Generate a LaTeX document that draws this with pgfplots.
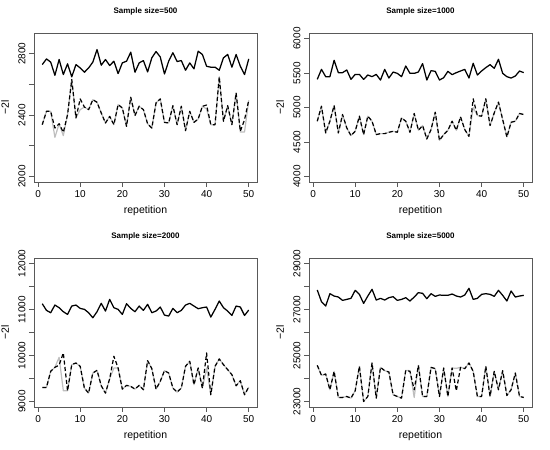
\documentclass[border=0pt]{standalone}
\usepackage{fontspec}
\setmainfont{Liberation Sans}
\usepackage{pgfplots}
\usepackage{pgfplotstable}
\pgfplotsset{compat=1.18}

\definecolor{rgray}{HTML}{BEBEBE}

% columns: repetition, top solid, dashed, gray
\pgfplotstableread{
x T D G
1 2730 2338 2338
2 2767 2425 2425
3 2746 2425 2425
4 2660 2316 2255
5 2763 2344 2344
6 2665 2288 2266
7 2735 2403 2403
8 2650 2632 2632
9 2730 2382 2382
10 2708 2506 2436
11 2680 2453 2453
12 2708 2436 2436
13 2746 2501 2501
14 2828 2484 2484
15 2726 2414 2414
16 2763 2349 2349
17 2724 2392 2392
18 2752 2338 2338
19 2671 2469 2469
20 2741 2447 2447
21 2752 2327 2327
22 2811 2517 2517
23 2680 2397 2397
24 2741 2458 2458
25 2756 2436 2436
26 2682 2344 2344
27 2774 2316 2316
28 2815 2480 2480
29 2780 2506 2506
30 2669 2353 2353
31 2752 2349 2349
32 2807 2462 2462
33 2750 2338 2338
34 2756 2458 2458
35 2693 2299 2299
36 2741 2425 2425
37 2702 2353 2353
38 2817 2375 2375
39 2796 2458 2458
40 2719 2466 2440
41 2713 2338 2338
42 2713 2338 2338
43 2693 2650 2650
44 2774 2360 2360
45 2796 2462 2462
46 2713 2338 2338
47 2796 2545 2545
48 2719 2295 2290
49 2665 2370 2290
50 2767 2497 2497
}\dataA

\pgfplotstableread{
x T D G
1 5408 4801 4801
2 5553 5019 5019
3 5447 4631 4631
4 5447 4801 4801
5 5684 5029 5029
6 5505 4631 4631
7 5505 4898 4898
8 5544 4704 4704
9 5408 4592 4592
10 5480 4655 4655
11 5480 4874 4874
12 5408 4607 4607
13 5471 4874 4874
14 5447 4801 4801
15 5480 4607 4607
16 5398 4621 4621
17 5553 4621 4621
18 5427 4641 4641
19 5514 4655 4655
20 5495 4641 4641
21 5447 4849 4849
22 5602 4801 4801
23 5495 4641 4641
24 5495 4913 4913
25 5514 4670 4670
26 5636 4738 4738
27 5398 4544 4544
28 5534 4680 4680
29 5524 4932 4932
30 5398 4524 4524
31 5432 4607 4607
32 5524 4670 4670
33 5476 4801 4801
34 5505 4670 4670
35 5529 4864 4864
36 5553 4680 4680
37 5427 4582 4582
38 5641 5126 5000
39 5471 4883 4883
40 5529 4874 4874
41 5578 5126 5126
42 5621 4738 4738
43 5568 4922 4922
44 5699 5078 5078
45 5495 4825 4825
46 5447 4573 4573
47 5427 4786 4786
48 5456 4801 4801
49 5529 4913 4913
50 5505 4898 4898
}\dataB

\pgfplotstableread{
x T D G
1 11126 9306 9306
2 10981 9306 9306
3 10930 9655 9655
4 11097 9743 9743
5 11039 9790 9960
6 10952 10056 9233
7 10893 9233 9233
8 11075 9801 9801
9 11097 9837 9837
10 11024 9765 9765
11 11003 9291 9291
12 10930 9182 9182
13 10820 9619 9619
14 10952 9677 9677
15 11134 9342 9342
16 10966 9182 9182
17 11221 9495 9495
18 11039 9983 9728
19 11003 9728 9728
20 10893 9269 9269
21 11126 9350 9350
22 11024 9328 9328
23 10952 9269 9269
24 11075 9350 9350
25 10981 9255 9255
26 11112 9888 9888
27 10930 9714 9714
28 10966 9269 9269
29 11054 9437 9437
30 10879 9670 9670
31 10857 9619 9619
32 11024 9291 9291
33 10930 9204 9204
34 10981 9291 9291
35 11097 9765 9765
36 11134 9874 9874
37 11075 9364 9364
38 11017 9728 9728
39 11039 9291 9291
40 11054 10056 9728
41 10835 9146 9146
42 11003 9765 9765
43 11185 9925 9925
44 11039 9801 9801
45 10966 9692 9692
46 10871 9583 9583
47 11075 9342 9342
48 11054 9451 9451
49 10871 9146 9146
50 10988 9313 9313
}\dataC

\pgfplotstableread{
x T D G
1 27849 24572 24572
2 27339 24136 24136
3 27150 24194 24194
4 27688 23510 23510
5 27586 24310 24310
6 27543 23175 23175
7 27397 23175 23175
8 27441 23218 23218
9 27485 23146 23146
10 27834 23466 23466
11 27659 24529 24529
12 27266 23000 23000
13 27586 23218 23218
14 27878 24674 24674
15 27412 23146 23146
16 27485 24485 24485
17 27412 24340 24340
18 27514 24281 24281
19 27557 23291 23291
20 27397 23218 23218
21 27441 23146 23146
22 27514 24354 24354
23 27368 24310 24340
24 27543 23510 23175
25 27732 24572 24572
26 27703 23218 23218
27 27470 23218 23218
28 27688 24485 24485
29 27572 24427 24427
30 27630 23218 23218
31 27616 24456 24456
32 27616 23218 23218
33 27674 24456 24456
34 27586 23466 24440
35 27543 24485 24485
36 27630 24427 24427
37 27921 24674 24674
38 27441 24310 24310
39 27485 23218 23218
40 27659 23218 23218
41 27688 24529 24529
42 27659 23218 23218
43 27572 24310 24310
44 27834 23510 23510
45 27616 24340 24340
46 27368 23262 23262
47 27805 23510 23510
48 27543 24238 24238
49 27586 23218 23218
50 27616 23175 23175
}\dataD

\pgfplotsset{
  rpanel/.style={
    scale only axis, width=223pt, height=149pt,
    xmin=-0.96, xmax=51.96,
    xtick={0,10,...,50},
    xticklabels={0,10,20,30,40,50},
    axis line style={black!65, line width=0.7pt},
    tick align=outside, xtick pos=bottom, ytick pos=left,
    major tick length=5pt,
    tick style={black!65, line width=0.7pt},
    ticklabel style={font=\fontsize{10}{12}\selectfont},
    yticklabel style={rotate=90, anchor=south},
    scaled y ticks=false,
    xlabel={repetition}, ylabel={−2l},
    label style={font=\fontsize{10.5}{12}\selectfont},
    xlabel style={at={(axis description cs:0.5,-0.193)}, anchor=center},
    ylabel style={at={(axis description cs:-0.13,0.5)}, anchor=center},
    title style={at={(axis description cs:0.5,1.105)}, anchor=center,
      font=\bfseries\fontsize{8}{10}\selectfont},
  },
  solidl/.style={black, line width=1.25pt, line join=round},
  grayl/.style={rgray, line width=1.2pt, line join=round},
  dashl/.style={black, line width=1.2pt, line join=round,
    dash pattern=on 4pt off 2.5pt},
}

\begin{document}
\begin{tikzpicture}
\useasboundingbox (0,0) rectangle (550pt,450pt);

\begin{axis}[rpanel, at={(34pt,268pt)}, anchor=south west,
  title={Sample size=500},
  ymin=1964, ymax=2936,
  ytick={2000,2200,...,2800}, yticklabels={2000,,2400,,2800}]
\addplot[grayl] table[x=x, y=G] {\dataA};
\addplot[dashl] table[x=x, y=D] {\dataA};
\addplot[solidl] table[x=x, y=T] {\dataA};
\end{axis}

\begin{axis}[rpanel, at={(309pt,268pt)}, anchor=south west,
  title={Sample size=1000},
  ymin=3920, ymax=6080,
  ytick={4000,4500,...,6000}, yticklabels={4000,4500,5000,5500,6000}]
\addplot[grayl] table[x=x, y=G] {\dataB};
\addplot[dashl] table[x=x, y=D] {\dataB};
\addplot[solidl] table[x=x, y=T] {\dataB};
\end{axis}

\begin{axis}[rpanel, at={(34pt,43pt)}, anchor=south west,
  title={Sample size=2000},
  ymin=8880, ymax=12120,
  ytick={9000,9500,...,12000}, yticklabels={9000,,10000,,11000,,12000}]
\addplot[grayl] table[x=x, y=G] {\dataC};
\addplot[dashl] table[x=x, y=D] {\dataC};
\addplot[solidl] table[x=x, y=T] {\dataC};
\end{axis}

\begin{axis}[rpanel, at={(309pt,43pt)}, anchor=south west,
  title={Sample size=5000},
  ymin=22760, ymax=29240,
  ytick={23000,24000,...,29000}, yticklabels={23000,,25000,,27000,,29000}]
\addplot[grayl] table[x=x, y=G] {\dataD};
\addplot[dashl] table[x=x, y=D] {\dataD};
\addplot[solidl] table[x=x, y=T] {\dataD};
\end{axis}
\end{tikzpicture}
\end{document}
